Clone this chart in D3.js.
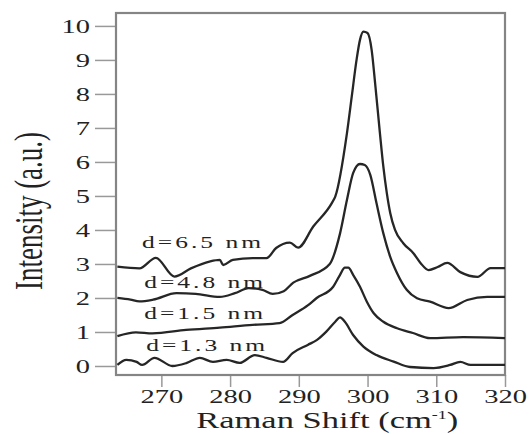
<!DOCTYPE html>
<html>
<head>
<meta charset="utf-8">
<script src="https://cdn.jsdelivr.net/npm/d3@7"></script>
<style>
  body { margin: 0; background: #fff; }
  text { font-family: "Liberation Serif", "Times New Roman", serif; fill: #222; }
</style>
</head>
<body>
<div id="chart"></div>
<script>
// Raman spectra, each trace offset vertically (x: cm^-1, y: a.u.)
const s65 = [[263.6,2.92],[266.8,2.87],[269.2,3.18],[271.9,2.63],[274.3,2.87],[277.0,3.07],[278.5,3.12],
  [279.0,2.97],[280.4,3.12],[283.3,3.17],[285.3,3.17],[286.7,3.47],[288.7,3.63],[289.9,3.48],[292.1,4.1],
  [294.8,4.79],[295.3,4.98],[297.0,6.84],[297.7,7.92],[298.4,9.0],[298.9,9.59],[299.4,9.83],[300.0,9.79],
  [300.6,9.29],[301.1,8.32],[301.8,6.85],[302.3,5.86],[302.8,5.09],[303.3,4.5],[304.0,4.0],[305.2,3.61],
  [306.7,3.31],[307.7,3.03],[308.9,2.82],[310.2,2.91],[311.6,3.03],[313.5,2.76],[316.0,2.62],[317.9,2.88],[320,2.88]];
const s48 = [[263.6,2.0],[265.5,1.95],[266.8,1.9],[268.8,1.95],[272.2,2.14],[275.0,2.12],[278.5,2.03],
  [280.7,2.14],[282.7,2.29],[284.7,2.24],[286.2,2.12],[287.8,2.2],[289.2,2.45],[291.6,2.65],[294.5,3.0],
  [296.0,3.9],[297.0,4.88],[297.9,5.67],[298.9,5.94],[299.6,5.91],[300.4,5.62],[301.3,4.79],[302.3,3.9],
  [303.3,3.21],[304.3,2.73],[305.7,2.24],[307.2,1.99],[309.1,1.89],[311.8,1.70],[314.5,1.94],[317.4,2.03],[320,2.03]];
const s15 = [[263.6,0.88],[266.3,0.99],[268.7,0.96],[273.6,1.06],[278.5,1.13],[283.3,1.21],[287.2,1.26],
  [289.1,1.5],[291.3,1.78],[292.6,2.0],[295.0,2.33],[296.0,2.68],[296.7,2.89],[297.2,2.89],[297.9,2.68],
  [298.9,2.33],[299.9,1.89],[300.9,1.55],[302.3,1.3],[304.3,1.11],[306.6,0.97],[309.1,0.82],[313.9,0.85],[320,0.82]];
const s13 = [[263.6,0.03],[264.9,0.18],[266.4,0.12],[267.2,0.03],[269.0,0.24],[271.6,0.0],[273.7,0.09],
  [275.6,0.24],[277.5,0.12],[279.5,0.18],[281.4,0.09],[283.6,0.32],[285.3,0.24],[287.7,0.12],[289.1,0.38],
  [291.3,0.62],[292.6,0.76],[294.0,1.01],[295.3,1.30],[296.0,1.43],[296.7,1.30],[297.9,0.91],[299.4,0.57],
  [301.3,0.32],[303.8,0.13],[306.2,-0.03],[309.6,-0.06],[312.0,0.03],[313.5,0.12],[315.0,0.03],[320,0.03]];

const series = [s65, s48, s15, s13];
const labels = ["d=6.5 nm", "d=4.8 nm", "d=1.5 nm", "d=1.3 nm"];
const labelX = [267.2, 267.5, 267.5, 267.8];
const labelY = [3.47, 2.29, 1.38, 0.44];
const xTicks = [270, 280, 290, 300, 310, 320];
const yTicks = [0, 1, 2, 3, 4, 5, 6, 7, 8, 9, 10];

const W = 532, H = 434;
const margin = { top: 13, right: 27, bottom: 59, left: 116 };
const width = W - margin.left - margin.right;
const height = H - margin.top - margin.bottom;
const sx = 1.5; // the figure is stretched horizontally

const svg = d3.select("#chart").append("svg")
  .attr("width", W).attr("height", H)
  .append("g")
  .attr("transform", `translate(${margin.left},${margin.top})`);

const x = d3.scaleLinear().domain([263.4, 320]).range([0, width]);
const y = d3.scaleLinear().domain([-0.265, 10.38]).range([height, 0]);

// axes
const gx = svg.append("g")
  .attr("transform", `translate(0,${height})`)
  .call(d3.axisBottom(x).tickValues(xTicks).tickSize(12).tickSizeOuter(0));
gx.select(".domain").remove();
gx.selectAll("line").attr("stroke", "#999").attr("stroke-width", 1.5);
gx.selectAll("text")
  .attr("y", 28).attr("dy", 0)
  .attr("transform", `scale(${sx},1)`)
  .style("font-size", "19px").style("fill", "#222");

const gy = svg.append("g")
  .call(d3.axisLeft(y).tickValues(yTicks).tickSize(21).tickSizeOuter(0));
gy.select(".domain").remove();
gy.selectAll("line").attr("stroke", "#999").attr("stroke-width", 1.5);
gy.selectAll("text")
  .attr("x", -26 / sx).attr("dy", "0.34em")
  .attr("transform", `scale(${sx},1)`)
  .style("font-size", "19px").style("fill", "#222");

// frame
svg.append("rect")
  .attr("x", 0).attr("y", 0)
  .attr("width", width).attr("height", height)
  .attr("fill", "none")
  .attr("stroke", "#858585")
  .attr("stroke-width", 2.2);

// spectra
const line = d3.line()
  .x(d => x(d[0]))
  .y(d => y(d[1]))
  .curve(d3.curveMonotoneX);

svg.selectAll(".spec")
  .data(series)
  .enter()
  .append("path")
  .attr("class", "spec")
  .attr("d", line)
  .attr("fill", "none")
  .attr("stroke", "#262626")
  .attr("stroke-width", 2.3);

// labels
svg.selectAll(".lab")
  .data(labels)
  .enter()
  .append("text")
  .attr("class", "lab")
  .attr("transform", (d, i) => `translate(${x(labelX[i])},${y(labelY[i])}) scale(${sx},1)`)
  .style("font-size", "17px")
  .style("letter-spacing", "2px")
  .text(d => d);

// axis titles
const xt = svg.append("text")
  .attr("text-anchor", "middle")
  .attr("transform", `translate(${width * 0.543},${height + 53}) scale(${sx},1)`)
  .style("font-size", "23px");
xt.append("tspan").text("Raman Shift (cm");
xt.append("tspan").attr("dy", -9).style("font-size", "12px").text("-1");
xt.append("tspan").attr("dy", 9).text(")");

svg.append("text")
  .attr("text-anchor", "middle")
  .attr("transform", `translate(${42 - margin.left},${211 - margin.top}) scale(${sx},1) rotate(-90)`)
  .style("font-size", "27px")
  .text("Intensity (a.u.)");
</script>
</body>
</html>
